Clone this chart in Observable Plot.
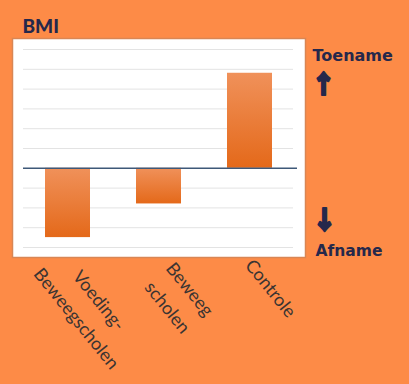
<!DOCTYPE html>
<html>
<head>
<meta charset="utf-8">
<script src="https://cdn.jsdelivr.net/npm/d3@7"></script>
<script src="https://cdn.jsdelivr.net/npm/@observablehq/plot@0.6"></script>
<style>
  html, body { margin: 0; padding: 0; background: #FD8B47; width: 409px; height: 384px; overflow: hidden; }
  #chart svg { display: block; }
</style>
</head>
<body>
<div id="chart"></div>
<script>
// ---- data ----
const categories = ["Voeding-Beweegscholen", "Beweeg scholen", "Controle"];
const tickLabels = ["Voeding-\nBeweegscholen", "Beweeg\nscholen", "Controle"];
const values = [-0.35, -0.18, 0.48];
const gridTicks = [-0.4, -0.3, -0.2, -0.1, 0.1, 0.2, 0.3, 0.4, 0.5, 0.6];
const title = "BMI";
const upLabel = "Toename";
const downLabel = "Afname";

// ---- layout (styling only) ----
const labelOffsets = [[22, 50], [22, 39], [23, 29]];
const navy = "#25284b";

const data = categories.map((c, i) => ({cat: c, value: values[i], label: tickLabels[i]}));

const labelMarks = data.map((d, i) => Plot.text([d], {
  x: "cat", text: "label", frameAnchor: "bottom",
  rotate: 51, textAnchor: "middle", lineAnchor: "middle", lineHeight: 1.6,
  dx: labelOffsets[i][0], dy: labelOffsets[i][1],
  fill: "#3a3432", fontFamily: "Lato", fontSize: 18
}));

const arrowStyle = {
  text: d => d, textAnchor: "middle", lineAnchor: "middle",
  fill: navy, stroke: navy, strokeWidth: 2.2, strokeLinejoin: "round",
  fontFamily: "Noto Sans CJK SC", fontWeight: 900, fontSize: 25
};

const chart = Plot.plot({
  width: 409, height: 384,
  marginTop: 38, marginRight: 104, marginBottom: 127, marginLeft: 12,
  style: {background: "transparent", overflow: "visible"},
  x: {domain: categories, range: [22, 295], paddingInner: 0.505, paddingOuter: 0.25, axis: null},
  y: {domain: [-0.4, 0.6], range: [247, 49], axis: null},
  marks: [
    Plot.frame({fill: "white", stroke: "#d98654", strokeWidth: 1.5}),
    Plot.ruleY(gridTicks, {stroke: "#e3e3e3", strokeWidth: 1, insetLeft: 11, insetRight: 12}),
    Plot.barY(data, {x: "cat", y: "value", fill: "url(#barGrad)"}),
    Plot.ruleY([0], {stroke: "#3e5878", strokeWidth: 1.5, insetLeft: 11, insetRight: 8}),
    ...labelMarks,
    Plot.text([title], {text: d => d, frameAnchor: "top-left", textAnchor: "start", lineAnchor: "bottom", dx: 10, dy: -6,
      fill: navy, fontFamily: "Lato", fontWeight: 900, fontSize: 19}),
    Plot.text([upLabel], {text: d => d, frameAnchor: "top-right", textAnchor: "start", lineAnchor: "bottom", dx: 7, dy: 22,
      fill: navy, fontFamily: "DejaVu Sans", fontWeight: "bold", fontSize: 16}),
    Plot.text(["↑"], {...arrowStyle, frameAnchor: "top-right", dx: 18, dy: 46}),
    Plot.text(["↓"], {...arrowStyle, frameAnchor: "bottom-right", dx: 19, dy: -37}),
    Plot.text([downLabel], {text: d => d, frameAnchor: "bottom-right", textAnchor: "start", lineAnchor: "bottom", dx: 10, dy: -2,
      fill: navy, fontFamily: "DejaVu Sans", fontWeight: "bold", fontSize: 15.5})
  ]
});

// gradient definition for the bars
const svg = d3.select(chart);
const defs = svg.insert("defs", ":first-child");
const grad = defs.append("linearGradient").attr("id", "barGrad")
  .attr("x1", 0).attr("y1", 0).attr("x2", 0).attr("y2", 1);
grad.append("stop").attr("offset", "0%").attr("stop-color", "#F0915A");
grad.append("stop").attr("offset", "100%").attr("stop-color", "#E4691A");

document.getElementById("chart").appendChild(chart);
</script>
</body>
</html>
